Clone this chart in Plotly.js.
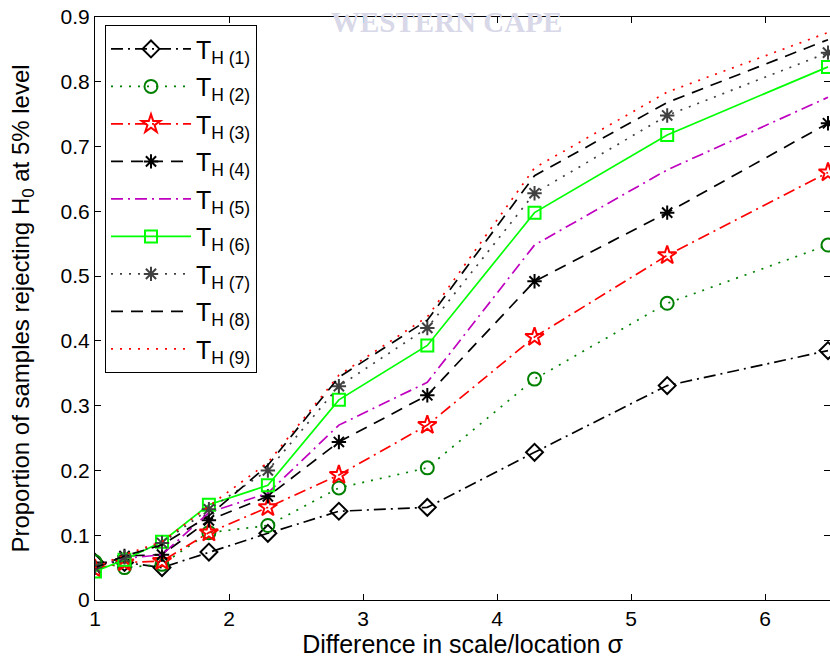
<!DOCTYPE html>
<html>
<head>
<meta charset="utf-8">
<script src="https://cdn.plot.ly/plotly-3.0.1.min.js"></script>
<style>html,body{margin:0;padding:0;background:#fff;}#chart{width:830px;height:661px;}</style>
</head>
<body>
<div id="chart"></div>
<script>
const sigma = [1.0, 1.22, 1.5, 1.85, 2.29, 2.82, 3.48, 4.28, 5.27, 6.47];
const seriesNames = ["T<sub>H (1)</sub>","T<sub>H (2)</sub>","T<sub>H (3)</sub>","T<sub>H (4)</sub>","T<sub>H (5)</sub>","T<sub>H (6)</sub>","T<sub>H (7)</sub>","T<sub>H (8)</sub>","T<sub>H (9)</sub>"];
const TH1 = [0.058, 0.058, 0.050, 0.074, 0.103, 0.137, 0.143, 0.228, 0.331, 0.385];
const TH2 = [0.059, 0.050, 0.055, 0.104, 0.115, 0.173, 0.204, 0.341, 0.458, 0.548];
const TH3 = [0.048, 0.058, 0.060, 0.104, 0.143, 0.193, 0.270, 0.406, 0.532, 0.660];
const TH4 = [0.050, 0.068, 0.070, 0.123, 0.160, 0.244, 0.316, 0.492, 0.598, 0.736];
const TH5 = [0.052, 0.064, 0.070, 0.135, 0.165, 0.270, 0.336, 0.548, 0.664, 0.776];
const TH6 = [0.044, 0.062, 0.090, 0.147, 0.177, 0.309, 0.393, 0.598, 0.718, 0.823];
const TH7 = [0.050, 0.066, 0.088, 0.140, 0.200, 0.330, 0.420, 0.628, 0.748, 0.845];
const TH8 = [0.050, 0.068, 0.085, 0.130, 0.208, 0.344, 0.432, 0.655, 0.768, 0.865];
const TH9 = [0.050, 0.070, 0.090, 0.145, 0.212, 0.347, 0.437, 0.667, 0.784, 0.876];
const yTickVals = [0,0.1,0.2,0.3,0.4,0.5,0.6,0.7,0.8,0.9];
const yTickText = ["0","0.1","0.2","0.3","0.4","0.5","0.6","0.7","0.8","0.9"];
const xTickVals = [1,2,3,4,5,6];

const values = [TH1,TH2,TH3,TH4,TH5,TH6,TH7,TH8,TH9];
const styles = [
  {color:"#000000", dash:"12px,5px,2px,5px", symbol:"diamond-open", size:13},
  {color:"#008000", dash:"2px,7px", symbol:"circle-open", size:13},
  {color:"#ff0000", dash:"12px,5px,2px,5px", symbol:"star-open", size:14},
  {color:"#000000", dash:"12px,8px", symbol:"asterisk-open", size:12},
  {color:"#bf00bf", dash:"12px,5px,2px,5px", symbol:null, size:0},
  {color:"#00ff00", dash:"solid", symbol:"square-open", size:12},
  {color:"#404040", dash:"2px,7px", symbol:"asterisk-open", size:12},
  {color:"#000000", dash:"12px,8px", symbol:null, size:0},
  {color:"#ff0000", dash:"2px,7px", symbol:null, size:0}
];

const traces = values.map((v,i)=>{
  const s = styles[i];
  const t = {
    x: sigma, y: v, name: seriesNames[i], type:"scatter",
    legendgroup: "g"+i,
    mode: s.symbol ? "lines+markers" : "lines",
    line: {color: s.color, dash: s.dash, width: 1.7},
    cliponaxis: true
  };
  if (s.symbol) t.marker = {symbol: s.symbol, size: s.size, color: s.color, line:{color:s.color, width:2}};
  return t;
});

const layout = {
  width: 830, height: 661,
  margin: {l:95, r:0, t:17, b:61},
  paper_bgcolor:"#fff", plot_bgcolor:"#fff",
  font: {family:"Liberation Sans, Arial, sans-serif", color:"#000", size:21},
  showlegend: true,
  legend: {
    x: 0.0136, y: 0.986, xanchor:"left", yanchor:"top",
    bgcolor:"#fff", bordercolor:"#000", borderwidth:1,
    font:{size:25, family:"Liberation Sans, Arial, sans-serif"},
    tracegroupgap: 2, itemwidth: 80
  },
  xaxis: {
    range:[1, 6.485], tickvals: xTickVals, ticks:"inside", ticklen:6, tickcolor:"#000",
    showline:true, linecolor:"#000", linewidth:1, mirror:"ticks", showgrid:false, zeroline:false,
    tickfont:{size:21},
    title:{text:"Difference in scale/location σ", font:{size:25}, standoff:1}
  },
  yaxis: {
    range:[0, 0.9], tickvals: yTickVals, ticktext: yTickText, ticks:"inside", ticklen:6, tickcolor:"#000",
    showline:true, linecolor:"#000", linewidth:1, mirror:"ticks", showgrid:false, zeroline:false,
    tickfont:{size:21},
    title:{text:"Proportion of samples rejecting H<sub>0</sub> at 5% level", font:{size:24}, standoff:24}
  },
  annotations: [{
    text:"<b>WESTERN CAPE</b>", xref:"paper", yref:"paper", x:0.478, y:0.991, yanchor:"middle", xanchor:"center",
    showarrow:false, font:{family:"Liberation Serif, DejaVu Serif, serif", size:29, color:"#d8d8e8"}
  }]
};

Plotly.newPlot("chart", traces, layout, {staticPlot:true, displayModeBar:false});
</script>
</body>
</html>
